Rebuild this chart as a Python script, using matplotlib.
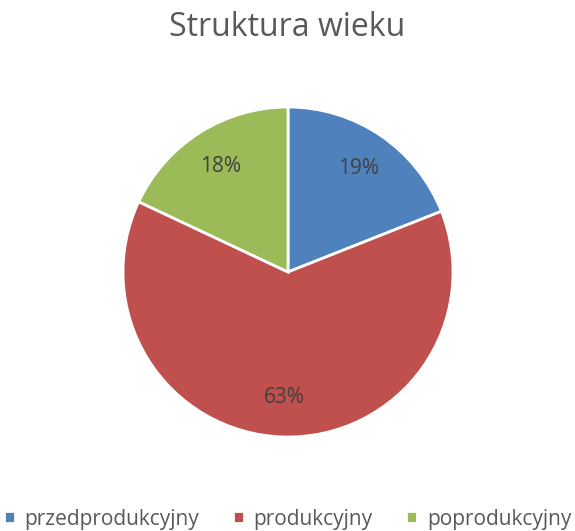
from matplotlib import pyplot as plt
import numpy as np

kategorie = ['przedprodukcyjny', 'produkcyjny', 'poprodukcyjny']
udzialy = [19, 63, 18]
kolory = ['#4F81BD', '#C0504D', '#9BBB59']

plt.rcParams['font.family'] = ['Open Sans', 'DejaVu Sans']

fig = plt.figure(figsize=(5.75, 5.31), dpi=100)
# pie: srodek ~ (288, 272) px, promien ~165 px
ax = fig.add_axes([(288 - 165) / 575, (531 - 437) / 531, 330 / 575, 330 / 531])
wedges, teksty, procenty = ax.pie(udzialy, colors=kolory, startangle=90, counterclock=False,
                                  autopct='%1.0f%%', pctdistance=0.76, radius=1,
                                  wedgeprops=dict(edgecolor='white', linewidth=2),
                                  textprops=dict(color='#404040', fontsize=15))
ax.set_xlim(-1, 1)
ax.set_ylim(-1, 1)
ax.set_aspect('equal')

fig.text(0.5, 1 - 28 / 531, 'Struktura wieku', ha='center', va='center',
         fontsize=23, color='#595959')

fig.legend(wedges, kategorie, loc='center', bbox_to_anchor=(0.5, 1 - 519 / 531),
           ncol=3, frameon=False, fontsize=15, handlelength=0.55, handleheight=0.55,
           handletextpad=0.45, columnspacing=1.6, labelcolor='#595959',
           borderpad=0, borderaxespad=0)

fig.savefig('out.png', dpi=100)
